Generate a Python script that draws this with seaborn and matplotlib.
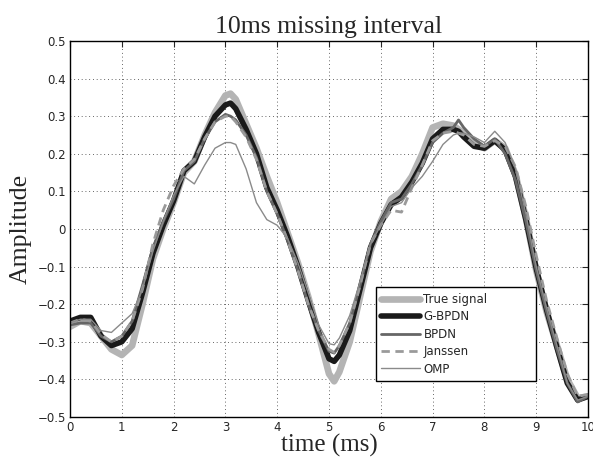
import numpy as np
import pandas as pd
import matplotlib
matplotlib.use("Agg")
import matplotlib.pyplot as plt
import seaborn as sns

# time grid (ms)
time_ms = [0.0, 0.2, 0.4, 0.6, 0.8, 1.0, 1.2, 1.4, 1.6, 1.8, 2.0, 2.2, 2.4, 2.6, 2.8,
           3.0, 3.1, 3.2, 3.4, 3.6, 3.8, 4.0, 4.2, 4.4, 4.6, 4.8, 5.0, 5.1, 5.2, 5.4,
           5.6, 5.8, 6.0, 6.2, 6.4, 6.6, 6.8, 7.0, 7.2, 7.4, 7.5, 7.6, 7.8, 8.0, 8.2,
           8.4, 8.6, 8.8, 9.0, 9.2, 9.4, 9.6, 9.8, 10.0]

true_signal = [-0.26, -0.245, -0.25, -0.285, -0.32, -0.335, -0.31, -0.20, -0.08, 0.00,
               0.07, 0.15, 0.18, 0.25, 0.31, 0.355, 0.36, 0.345, 0.28, 0.215, 0.14,
               0.07, -0.01, -0.09, -0.18, -0.28, -0.385, -0.405, -0.38, -0.30, -0.18,
               -0.06, 0.02, 0.08, 0.10, 0.14, 0.20, 0.27, 0.28, 0.275, 0.265, 0.255,
               0.23, 0.215, 0.235, 0.215, 0.145, 0.03, -0.11, -0.22, -0.31, -0.40,
               -0.45, -0.445]

g_bpdn = [-0.245, -0.235, -0.235, -0.285, -0.31, -0.30, -0.265, -0.17, -0.065, 0.01,
          0.075, 0.155, 0.18, 0.245, 0.30, 0.33, 0.335, 0.32, 0.265, 0.20, 0.11,
          0.05, -0.02, -0.10, -0.19, -0.275, -0.345, -0.352, -0.335, -0.27, -0.16,
          -0.05, 0.015, 0.065, 0.085, 0.125, 0.175, 0.24, 0.265, 0.265, 0.26, 0.245,
          0.22, 0.215, 0.235, 0.21, 0.14, 0.025, -0.105, -0.215, -0.315, -0.41,
          -0.455, -0.445]

bpdn = [-0.255, -0.25, -0.25, -0.285, -0.30, -0.285, -0.245, -0.15, -0.05, 0.02,
        0.08, 0.155, 0.18, 0.24, 0.285, 0.305, 0.30, 0.29, 0.25, 0.19, 0.10,
        0.04, -0.03, -0.11, -0.20, -0.27, -0.325, -0.33, -0.31, -0.25, -0.15,
        -0.04, 0.02, 0.07, 0.08, 0.12, 0.17, 0.23, 0.255, 0.27, 0.29, 0.27,
        0.24, 0.22, 0.24, 0.20, 0.13, 0.02, -0.11, -0.22, -0.32, -0.41,
        -0.46, -0.445]

janssen = [-0.25, -0.24, -0.245, -0.28, -0.30, -0.285, -0.245, -0.16, -0.04, 0.05,
           0.115, 0.16, 0.185, 0.24, 0.285, 0.30, 0.30, 0.285, 0.245, 0.185, 0.10,
           0.04, -0.03, -0.11, -0.20, -0.27, -0.32, -0.328, -0.31, -0.25, -0.15,
           -0.04, 0.01, 0.05, 0.045, 0.11, 0.17, 0.235, 0.255, 0.26, 0.255, 0.25,
           0.225, 0.22, 0.235, 0.22, 0.165, 0.06, -0.07, -0.19, -0.29, -0.385,
           -0.445, -0.44]

omp = [-0.25, -0.24, -0.24, -0.27, -0.275, -0.25, -0.225, -0.16, -0.06, 0.02,
       0.09, 0.14, 0.12, 0.17, 0.215, 0.23, 0.23, 0.225, 0.16, 0.07, 0.025,
       0.01, -0.025, -0.09, -0.17, -0.255, -0.305, -0.308, -0.29, -0.23, -0.14,
       -0.04, 0.01, 0.06, 0.07, 0.11, 0.14, 0.18, 0.225, 0.25, 0.255, 0.255,
       0.245, 0.23, 0.26, 0.23, 0.16, 0.04, -0.10, -0.21, -0.31, -0.41,
       -0.455, -0.445]

series = [
    ("True signal", true_signal, "#b4b4b4", 4.8, "-"),
    ("G-BPDN", g_bpdn, "#1a1a1a", 4.0, "-"),
    ("BPDN", bpdn, "#666666", 2.0, "-"),
    ("Janssen", janssen, "#9a9a9a", 2.0, (0, (3, 2))),
    ("OMP", omp, "#8a8a8a", 1.0, "-"),
]

sns.set_style("white")
plt.rcParams["font.family"] = ["DejaVu Sans"]
plt.rcParams["axes.unicode_minus"] = True

fig = plt.figure(figsize=(5.93, 4.61), dpi=100)
ax = fig.add_axes([0.118, 0.0954, 0.8736, 0.8156])

for name, vals, col, lw, ls in series:
    sns.lineplot(x=time_ms, y=vals, color=col, linewidth=lw, linestyle=ls,
                 label=name, ax=ax, sort=False)

ax.set_xlim(0, 10)
ax.set_ylim(-0.5, 0.5)
ax.set_xticks(np.arange(0, 11, 1))
ax.set_yticks(np.round(np.arange(-0.5, 0.51, 0.1), 1))
ax.set_yticklabels(["\u22120.5", "\u22120.4", "\u22120.3", "\u22120.2", "\u22120.1",
                    "0", "0.1", "0.2", "0.3", "0.4", "0.5"])
ax.grid(True, color="#333333", linestyle=(0, (1, 3.5)), linewidth=0.6)
ax.tick_params(direction="in", top=True, right=True, length=4, width=0.8,
               labelsize=8.5, pad=3)
for sp in ax.spines.values():
    sp.set_color("black")
    sp.set_linewidth(1.0)

serif = ["Liberation Serif", "DejaVu Serif"]
ax.set_title("10ms missing interval", family=serif, fontsize=18.5, pad=6)
ax.set_xlabel("time (ms)", family=serif, fontsize=18, labelpad=0)
ax.set_ylabel("Amplitude", family=serif, fontsize=18.5, labelpad=4)

leg = ax.legend(loc="lower left", bbox_to_anchor=(0.59, 0.096, 0.31, 0.25),
                mode="expand", fancybox=False, edgecolor="black", framealpha=1,
                fontsize=8.5, handlelength=3.3, handletextpad=0.3, borderpad=0.45,
                labelspacing=0.38, borderaxespad=0)
leg.get_frame().set_linewidth(1.0)

plt.savefig("out.png", dpi=100)
plt.close()
